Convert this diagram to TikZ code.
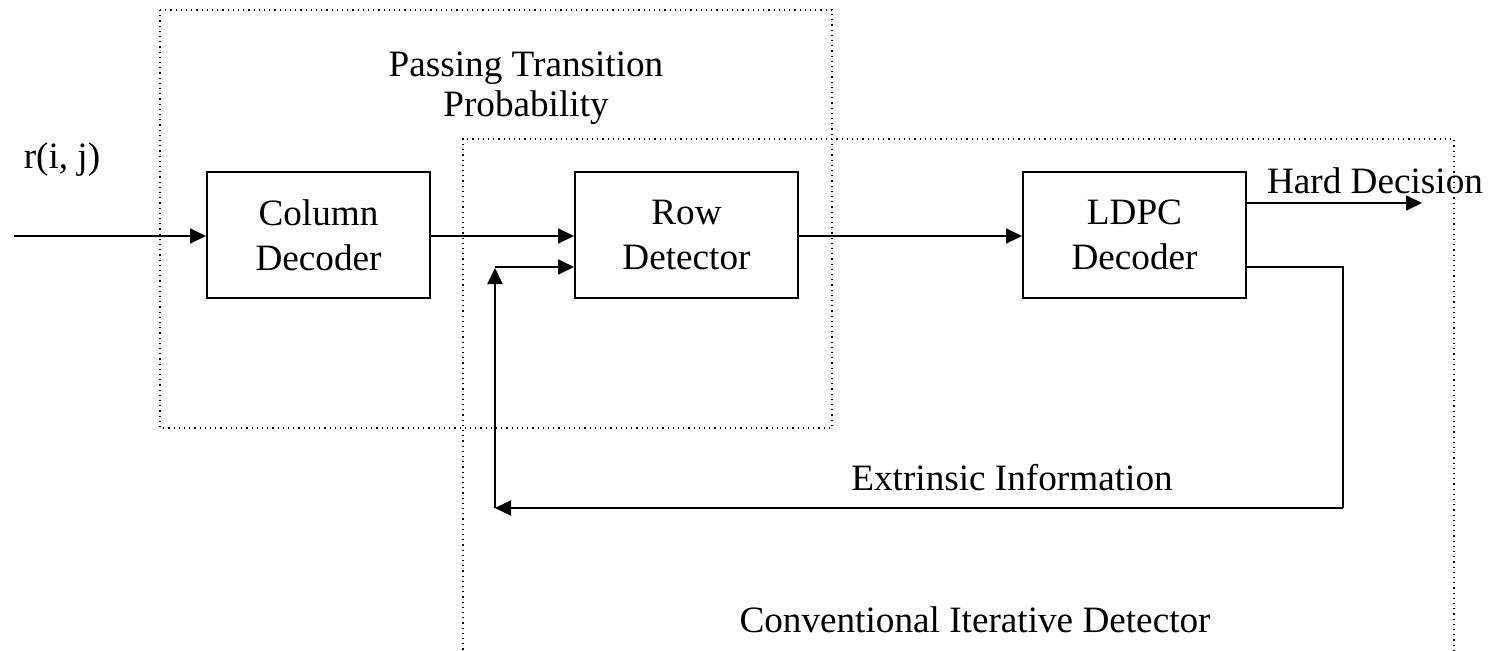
\documentclass[tikz,border=0pt]{standalone}
\usepackage{fontspec}
\setmainfont{Liberation Serif}
\usetikzlibrary{arrows.meta}
\begin{document}
\begin{tikzpicture}[x=0.5pt,y=-0.5pt,
  every node/.style={font=\fontsize{18.6}{20}\selectfont},
  block/.style={draw,line width=1pt,minimum width=111.5pt,minimum height=63pt,align=center,inner sep=0pt,font=\fontsize{18.6}{22.5}\selectfont},
  conn/.style={line width=1pt,-{Triangle[length=8pt,width=7.5pt]}},
  plain/.style={line width=1pt},
  region/.style={dotted,line width=0.6pt},
  lbl/.style={align=center,inner sep=0pt}]
\useasboundingbox (0,0) rectangle (1488,650);
% dotted regions
\draw[region] (160,10) rectangle (832,428);
\draw[region] (463,660) -- (463,139) -- (1454,139) -- (1454,660);
% blocks
\node[block] (col) at (318.5,235) {Column\\Decoder};
\node[block] (row) at (686.5,235) {Row\\Detector};
\node[block] (ldpc) at (1134.5,235) {LDPC\\Decoder};
% labels
\node[lbl] (ptp) at (526,88) {Passing Transition\\Probability};
\node[lbl] (rij) at (62,160) {r(i, j)};
\node[lbl] (hd) at (1375,181) {Hard Decision};
\node[lbl] (ext) at (1012,478) {Extrinsic Information};
\node[lbl] (cid) at (975,620) {Conventional Iterative Detector};
% coordinates
\coordinate (in) at (14,236);
\coordinate (hdend) at (1422,203);
\coordinate (fbR) at (1343,267);
\coordinate (fbRB) at (1343,508);
\coordinate (fbL) at (495,508);
\coordinate (fbUp) at (495,268);
\coordinate (fbTop) at (495,267);
% connectors
\draw[conn] (in) -- (col.west |- in);
\draw[conn] (col.east |- in) -- (row.west |- in);
\draw[conn] (row.east |- in) -- (ldpc.west |- in);
\draw[conn] (ldpc.east |- hdend) -- (hdend);
\draw[plain] (ldpc.east |- fbR) -- (fbR) -- (fbRB);
\draw[conn] (fbRB) -- (fbL);
\draw[conn] (fbL) -- (fbUp);
\draw[conn] (fbTop) -- (row.west |- fbTop);
\end{tikzpicture}
\end{document}
